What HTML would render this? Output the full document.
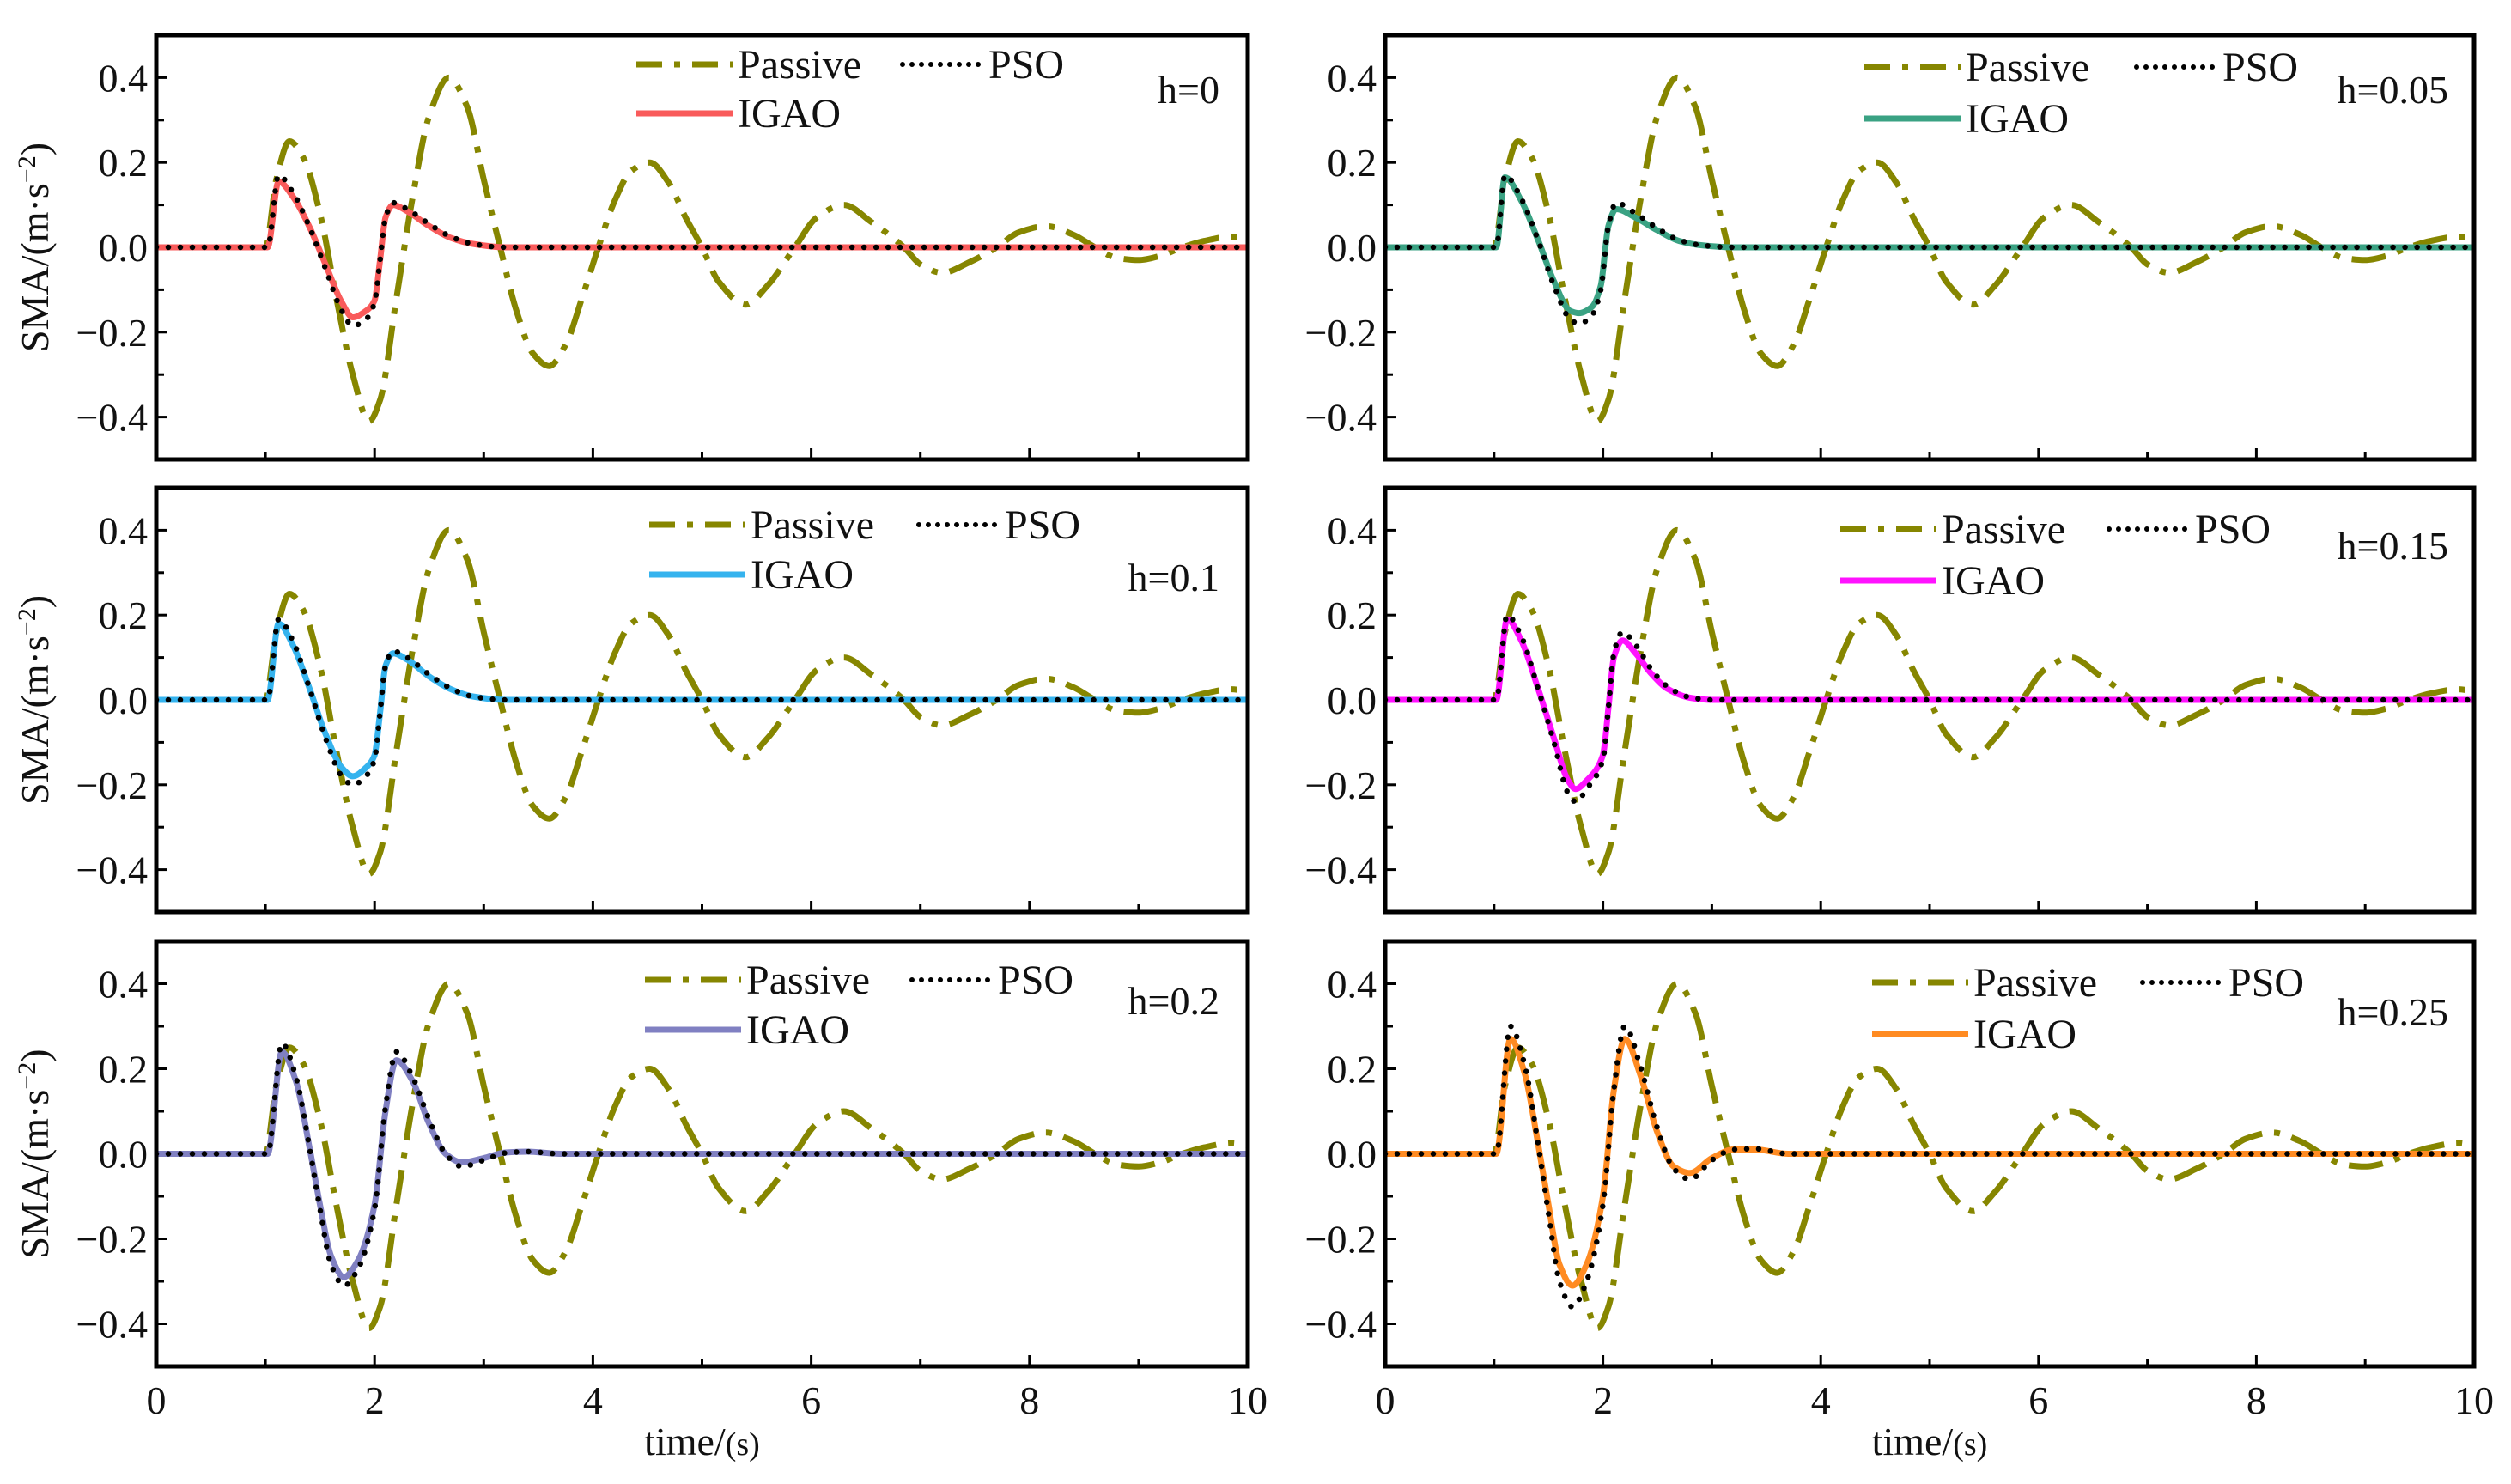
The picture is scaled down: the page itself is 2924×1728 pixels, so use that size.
<!DOCTYPE html>
<html><head><meta charset="utf-8">
<style>
html,body{margin:0;padding:0;background:#fff;}
svg{display:block;}
text{font-family:"Liberation Serif",serif;fill:#111;}
</style></head>
<body>
<svg id="chart" width="2924" height="1728" viewBox="0 0 2924 1728" xmlns="http://www.w3.org/2000/svg"></svg>
<script>
// ---- data ----
const passiveT = [0,1.0,1.1,1.22,1.35,1.5,1.65,1.8,1.95,2.05,2.2,2.35,2.5,2.68,2.85,3.0,3.15,3.3,3.45,3.6,3.75,3.9,4.05,4.2,4.35,4.52,4.7,4.85,5.0,5.15,5.4,5.6,5.85,6.05,6.3,6.55,6.85,7.0,7.2,7.45,7.7,7.9,8.15,8.4,8.6,8.8,9.0,9.2,9.4,9.6,9.85,10];
const passiveV = [0,0,0.16,0.25,0.21,0.08,-0.12,-0.30,-0.41,-0.36,-0.12,0.12,0.31,0.40,0.33,0.16,0,-0.15,-0.25,-0.28,-0.23,-0.12,0,0.11,0.18,0.20,0.15,0.07,0,-0.08,-0.135,-0.09,0,0.07,0.10,0.06,0,-0.04,-0.06,-0.035,0,0.035,0.05,0.03,0,-0.025,-0.03,-0.02,0,0.015,0.025,0.02];

const hLabels = ["h=0","h=0.05","h=0.1","h=0.15","h=0.2","h=0.25"];
const igaoColors = ["#f95b5b","#3aa283","#35b3ee","#ff12ff","#8080c2","#ff8b22"];

const tA = [0,1.02,1.12,1.25,1.4,1.55,1.7,1.8,1.92,2.0,2.05,2.1,2.17,2.3,2.5,2.7,2.9,3.2,10];
const h0Igao = [0,0,0.155,0.12,0.05,-0.04,-0.13,-0.165,-0.15,-0.125,-0.03,0.07,0.10,0.085,0.05,0.022,0.008,0,0];
const h0Pso  = [0,0,0.17,0.13,0.05,-0.05,-0.15,-0.185,-0.17,-0.13,-0.03,0.07,0.105,0.09,0.055,0.025,0.008,0,0];

const tB = [0,1.02,1.1,1.25,1.4,1.55,1.7,1.78,1.9,1.98,2.05,2.12,2.3,2.5,2.7,2.9,3.2,10];
const h005Igao = [0,0,0.165,0.11,0.02,-0.08,-0.15,-0.155,-0.14,-0.09,0.05,0.09,0.07,0.04,0.015,0.005,0,0];
const h005Pso  = [0,0,0.17,0.115,0.02,-0.09,-0.17,-0.18,-0.16,-0.1,0.05,0.105,0.08,0.045,0.017,0.005,0,0];

const h01Igao = [0,0,0.18,0.13,0.03,-0.08,-0.16,-0.18,-0.16,-0.13,-0.03,0.08,0.11,0.095,0.055,0.025,0.008,0,0];
const h01Pso  = [0,0,0.19,0.14,0.03,-0.09,-0.18,-0.2,-0.18,-0.14,-0.03,0.08,0.115,0.1,0.06,0.027,0.008,0,0];

const tC = [0,1.02,1.12,1.25,1.4,1.55,1.68,1.75,1.85,2.0,2.05,2.1,2.18,2.3,2.45,2.6,2.8,3.0,10];
const h015Igao = [0,0,0.19,0.14,0.03,-0.09,-0.19,-0.21,-0.19,-0.13,-0.02,0.1,0.14,0.11,0.06,0.025,0.005,0,0];
const h015Pso  = [0,0,0.2,0.15,0.03,-0.1,-0.22,-0.24,-0.21,-0.14,-0.02,0.11,0.16,0.13,0.07,0.03,0.006,0,0];

const tD = [0,1.02,1.15,1.28,1.4,1.5,1.6,1.72,1.85,2.0,2.1,2.2,2.35,2.5,2.65,2.8,3.0,3.2,3.4,3.7,10];
const h02Igao = [0,0,0.24,0.17,0.02,-0.12,-0.24,-0.29,-0.25,-0.12,0.1,0.22,0.17,0.07,0.0,-0.02,-0.01,0.003,0.005,0,0];
const h02Pso  = [0,0,0.26,0.18,0.02,-0.13,-0.26,-0.31,-0.27,-0.13,0.11,0.24,0.18,0.08,0.0,-0.03,-0.015,0.002,0.005,0,0];
const h025Igao = [0,0,0.27,0.19,0.03,-0.12,-0.26,-0.31,-0.26,-0.1,0.15,0.27,0.18,0.05,-0.03,-0.045,-0.01,0.01,0.01,0,0];
const h025Pso  = [0,0,0.30,0.21,0.03,-0.14,-0.30,-0.36,-0.30,-0.12,0.15,0.30,0.20,0.06,-0.035,-0.06,-0.015,0.01,0.012,0,0];

const xTicks = [0,2,4,6,8,10];
const yTicks = [-0.4,-0.2,0.0,0.2,0.4];
const yTickLabels = ["\u22120.4","\u22120.2","0.0","0.2","0.4"];

// ---- layout ----
const NS = "http://www.w3.org/2000/svg";
const svg = document.getElementById("chart");
const cols = [[182,1453],[1613,2881]];
const rows = [[41,535],[568,1062],[1096,1591]];
const panels = [
  {c:0,r:0,t:tA,ig:h0Igao,ps:h0Pso,leg:[559,34,91,869],hy:63},
  {c:1,r:0,t:tB,ig:h005Igao,ps:h005Pso,leg:[558,37,97,875],hy:63},
  {c:0,r:1,t:tA,ig:h01Igao,ps:h01Pso,leg:[574,43,101,888],hy:104},
  {c:1,r:1,t:tC,ig:h015Igao,ps:h015Pso,leg:[530,48,108,843],hy:67},
  {c:0,r:2,t:tD,ig:h02Igao,ps:h02Pso,leg:[569,45,103,880],hy:69},
  {c:1,r:2,t:tD,ig:h025Igao,ps:h025Pso,leg:[567,48,108,882],hy:82}
];

function el(tag, attrs, parent){
  const e = document.createElementNS(NS, tag);
  for (const k in attrs) e.setAttribute(k, attrs[k]);
  (parent||svg).appendChild(e);
  return e;
}
// monotone cubic (Fritsch–Carlson) path through data points
function pathFrom(ts, vs, xs, ys){
  const n = ts.length;
  const X = ts.map(xs), Y = vs.map(ys);
  const d = [], m = new Array(n);
  for (let i=0;i<n-1;i++) d.push((Y[i+1]-Y[i])/(X[i+1]-X[i]));
  m[0]=d[0]; m[n-1]=d[n-2];
  for (let i=1;i<n-1;i++){
    if (d[i-1]*d[i] <= 0) m[i]=0;
    else { const h0=X[i]-X[i-1], h1=X[i+1]-X[i];
      const w1=2*h1+h0, w2=h1+2*h0;
      m[i]=(w1+w2)/(w1/d[i-1]+w2/d[i]); }
  }
  let s = "M"+X[0].toFixed(1)+","+Y[0].toFixed(1);
  for (let i=0;i<n-1;i++){
    const h=(X[i+1]-X[i])/3;
    s += " C"+(X[i]+h).toFixed(1)+","+(Y[i]+m[i]*h).toFixed(1)+" "+(X[i+1]-h).toFixed(1)+","+(Y[i+1]-m[i+1]*h).toFixed(1)+" "+X[i+1].toFixed(1)+","+Y[i+1].toFixed(1);
  }
  return s;
}

panels.forEach((pn, idx)=>{
  const [x0,x1] = cols[pn.c], [y0,y1] = rows[pn.r];
  const xs = t => x0 + (t/10)*(x1-x0);
  const ys = v => y0 + (0.5 - v)*(y1-y0);
  const g = el("g", {});
  
  

  const clipId = "clip"+idx;
  const cp = el("clipPath", {id:clipId}, g);
  el("rect", {x:x0, y:y0, width:x1-x0, height:y1-y0}, cp);

  for (let i=0;i<=10;i++){
    const x = xs(i);
    const tk = el("line", {x1:x, x2:x, y1:y1, y2:y1-(i%2===0?13:9), stroke:"#000","stroke-width":3}, g);
    
    
  }
  for (let i=-5;i<=5;i++){
    const y = ys(i/10);
    const tk = el("line", {x1:x0, x2:x0+(i%2===0?13:9), y1:y, y2:y, stroke:"#000","stroke-width":3}, g);
    
    
  }
  yTicks.forEach((v,i)=>{
    const t = el("text", {x:x0-10, y:ys(v)+16, "text-anchor":"end", "font-size":46}, g);
    t.textContent = yTickLabels[i];
    
    
  });
  if (pn.r===2){
    xTicks.forEach(v=>{
      const t = el("text", {x:xs(v), y:1646, "text-anchor":"middle", "font-size":46}, g);
      t.textContent = String(v);
      
      
    });
    const xl = el("text", {x:(x0+x1)/2, y:1694, "text-anchor":"middle", "font-size":46}, g);
    xl.innerHTML = 'time/<tspan font-size="38">(s)</tspan>';
    
    
  }
  if (pn.c===0){
    const cy=(y0+y1)/2;
    const yl = el("text", {x:0, y:0, "text-anchor":"middle", "font-size":46, transform:"translate(56,"+cy+") rotate(-90)"}, g);
    yl.innerHTML = 'SMA/(m·s<tspan dy="-15" font-size="30">\u22122</tspan><tspan dy="15">)</tspan>';
    
    
  }

  const sg = el("g", {"clip-path":"url(#"+clipId+")"}, g);
  const pas = el("path", {d:pathFrom(passiveT, passiveV, xs, ys), fill:"none", stroke:"#868600","stroke-width":7,"stroke-dasharray":"40 14 7 14","stroke-linecap":"butt"}, sg);
  
  
  const ig = el("path", {d:pathFrom(pn.t, pn.ig, xs, ys), fill:"none", stroke:igaoColors[idx],"stroke-width":7,"stroke-linejoin":"round"}, sg);
  
  
  const ps = el("path", {d:pathFrom(pn.t, pn.ps, xs, ys), fill:"none", stroke:"#000","stroke-width":6.5,"stroke-dasharray":"0 14","stroke-linecap":"round"}, sg);
  
  

  const fr = el("rect", {x:x0, y:y0, width:x1-x0, height:y1-y0, fill:"none", stroke:"#000","stroke-width":5}, g);
  
  

  const [lx, r1, r2, px] = pn.leg;
  const L = el("g", {}, g);
  
  
  el("line", {x1:x0+lx, x2:x0+lx+112, y1:y0+r1, y2:y0+r1, stroke:"#868600","stroke-width":7,"stroke-dasharray":"30 14 7 14"}, L);
  const t1 = el("text", {x:x0+lx+118, y:y0+r1+16, "font-size":48}, L); t1.textContent="Passive";
  
  
  el("line", {x1:x0+px, x2:x0+px+96, y1:y0+r1, y2:y0+r1, stroke:"#000","stroke-width":6,"stroke-dasharray":"0 11","stroke-linecap":"round"}, L);
  const t2 = el("text", {x:x0+px+100, y:y0+r1+16, "font-size":48}, L); t2.textContent="PSO";
  
  
  el("line", {x1:x0+lx, x2:x0+lx+112, y1:y0+r2, y2:y0+r2, stroke:igaoColors[idx],"stroke-width":7}, L);
  const t3 = el("text", {x:x0+lx+118, y:y0+r2+16, "font-size":48}, L); t3.textContent="IGAO";
  
  

  const hl = el("text", {x:x0+1238, y:y0+pn.hy+16, "text-anchor":"end", "font-size":46}, g);
  hl.textContent = hLabels[idx];
  
  
});
</script>
</body></html>
